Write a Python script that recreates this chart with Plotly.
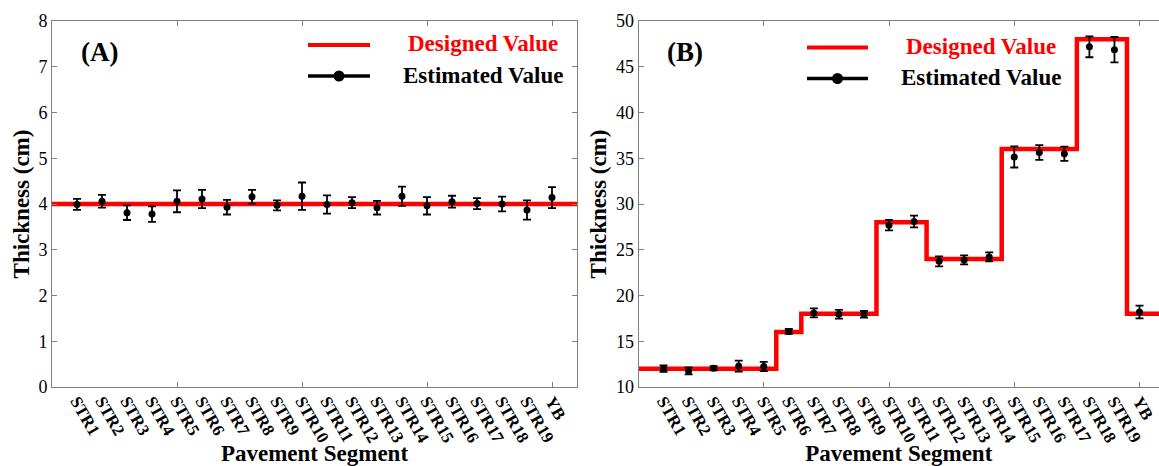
import plotly.graph_objects as go

# ---------------- data ----------------
segments = ["STR1", "STR2", "STR3", "STR4", "STR5", "STR6", "STR7", "STR8", "STR9", "STR10",
            "STR11", "STR12", "STR13", "STR14", "STR15", "STR16", "STR17", "STR18", "STR19", "YB"]

designed_a = [4] * 20
estimated_a = [3.99, 4.06, 3.81, 3.78, 4.06, 4.11, 3.93, 4.16, 3.97, 4.17,
               3.99, 4.03, 3.92, 4.17, 3.96, 4.05, 4.01, 4.00, 3.87, 4.14]
error_a = [0.12, 0.14, 0.16, 0.17, 0.24, 0.20, 0.16, 0.15, 0.11, 0.30,
           0.20, 0.12, 0.15, 0.21, 0.19, 0.13, 0.12, 0.16, 0.21, 0.23]

designed_b = [12, 12, 12, 12, 12, 16, 18, 18, 18, 28,
              28, 24, 24, 24, 36, 36, 36, 48, 48, 18]
estimated_b = [12.0, 11.76, 12.05, 12.29, 12.24, 16.07, 18.1, 17.95, 17.95, 27.69,
               28.09, 23.73, 23.89, 24.22, 35.14, 35.63, 35.49, 47.18, 46.86, 18.2]
error_b = [0.35, 0.38, 0.24, 0.60, 0.51, 0.27, 0.49, 0.47, 0.36, 0.58,
           0.65, 0.55, 0.49, 0.49, 1.15, 0.80, 0.77, 1.14, 1.39, 0.69]

y_ticks_a = [0, 1, 2, 3, 4, 5, 6, 7, 8]
y_ticks_b = [10, 15, 20, 25, 30, 35, 40, 45, 50]
x_major_ticks = [5, 10, 15, 20]

# ---------------- layout helpers ----------------
W, H = 1159, 466
ML, MR, MT, MB = 52, 0, 21, 79
PW, PH = W - ML - MR, H - MT - MB
RED = "#ff0000"
AXC = "#808080"
SERIF = "Liberation Serif, Times New Roman, serif"


def px(x):
    return (x - ML) / PW


def py(y):
    return (H - MB - y) / PH


pos = list(range(1, len(segments) + 1))
step_x = [0] + pos + [len(segments) + 1]


def step_y(vals):
    return [vals[0]] + vals + [vals[-1]]


fig = go.Figure()

# red step line on the tick-mark axis, estimated points on the label axis (same range)
for des, est, err, xa_line, xa_pts, ya in [
        (designed_a, estimated_a, error_a, "x", "x3", "y"),
        (designed_b, estimated_b, error_b, "x2", "x4", "y2")]:
    fig.add_trace(go.Scatter(
        x=step_x, y=step_y(des), mode="lines", line=dict(color=RED, width=4.5, shape="hvh"),
        name="Designed Value", showlegend=False, xaxis=xa_line, yaxis=ya))
    fig.add_trace(go.Scatter(
        x=pos, y=est, mode="markers", marker=dict(color="black", size=7),
        error_y=dict(type="data", array=err, visible=True, color="black", thickness=1.8, width=4),
        name="Estimated Value", showlegend=False, xaxis=xa_pts, yaxis=ya))

dom_a = [0, px(577)]
dom_b = [px(638.5), 1]
range_a = [0, 21]
range_b = [0, (W - 638.5) / 25.05]

tickfont_y = dict(family=SERIF, size=18, color="black")
tickfont_x = dict(family=SERIF, size=17, color="black", weight="bold")
titlefont = dict(family=SERIF, size=23, color="black", weight="bold")

base_x = dict(tickmode="array", tickvals=x_major_ticks, ticks="inside", ticklen=5, tickcolor=AXC,
              showticklabels=False, showline=True, linecolor=AXC, linewidth=1, mirror="ticks",
              showgrid=False, zeroline=False, fixedrange=True)
label_x = dict(tickmode="array", tickvals=pos, ticktext=segments, tickangle=60, ticks="",
               tickfont=tickfont_x, showline=False, showgrid=False, zeroline=False,
               title=dict(text="Pavement Segment", font=titlefont, standoff=0))

fig.update_layout(
    width=W, height=H, autosize=False,
    margin=dict(l=ML, r=MR, t=MT, b=MB, pad=0),
    paper_bgcolor="white", plot_bgcolor="white",
    showlegend=False,
    xaxis=dict(domain=dom_a, range=range_a, anchor="y", **base_x),
    xaxis2=dict(domain=dom_b, range=range_b, anchor="y2", **base_x),
    xaxis3=dict(domain=dom_a, range=range_a, anchor="y", overlaying="x", **label_x),
    xaxis4=dict(domain=dom_b, range=range_b, anchor="y2", overlaying="x2", **label_x),
    yaxis=dict(domain=[0, 1], range=[0, 8], anchor="x", tickmode="array", tickvals=y_ticks_a,
               ticks="inside", ticklen=5, tickcolor=AXC, tickfont=tickfont_y,
               showline=True, linecolor=AXC, linewidth=1, mirror="ticks", showgrid=False,
               zeroline=False,
               title=dict(text="Thickness (cm)", font=titlefont, standoff=2)),
    yaxis2=dict(domain=[0, 1], range=[10, 50], anchor="x2", tickmode="array", tickvals=y_ticks_b,
                ticks="inside", ticklen=5, tickcolor=AXC, tickfont=tickfont_y,
                showline=True, linecolor=AXC, linewidth=1, mirror=False, showgrid=False,
                zeroline=False,
                title=dict(text="Thickness (cm)", font=titlefont, standoff=2)),
)

# ---------------- panel labels & legends ----------------
legend_font = dict(family=SERIF, size=23, weight="bold")
panels = [
    dict(label="(A)", lx=99, ly=51.5, x0=308, x1=370, ty1=45, ty2=76, tx=482.5),
    dict(label="(B)", lx=685, ly=52, x0=807, x1=868, ty1=47.5, ty2=78.5, tx=981),
]
for p in panels:
    fig.add_annotation(x=px(p["lx"]), y=py(p["ly"]), xref="paper", yref="paper", text=p["label"],
                       showarrow=False, xanchor="center", yanchor="middle",
                       font=dict(family=SERIF, size=27, color="black", weight="bold"))
    fig.add_shape(type="line", xref="paper", yref="paper", x0=px(p["x0"]), x1=px(p["x1"]),
                  y0=py(p["ty1"]), y1=py(p["ty1"]), line=dict(color=RED, width=4))
    fig.add_shape(type="line", xref="paper", yref="paper", x0=px(p["x0"]), x1=px(p["x1"]),
                  y0=py(p["ty2"]), y1=py(p["ty2"]), line=dict(color="black", width=3.5))
    cx = (p["x0"] + p["x1"]) / 2
    fig.add_shape(type="circle", xref="paper", yref="paper", fillcolor="black",
                  line=dict(color="black", width=0),
                  x0=px(cx - 5.5), x1=px(cx + 5.5), y0=py(p["ty2"] - 5.5), y1=py(p["ty2"] + 5.5))
    fig.add_annotation(x=px(p["tx"]), y=py(p["ty1"] - 1), xref="paper", yref="paper",
                       text="Designed Value", showarrow=False, xanchor="center", yanchor="middle",
                       font=dict(color=RED, **legend_font))
    fig.add_annotation(x=px(p["tx"]), y=py(p["ty2"] - 1), xref="paper", yref="paper",
                       text="Estimated Value", showarrow=False, xanchor="center", yanchor="middle",
                       font=dict(color="black", **legend_font))

fig.write_html("out.html")
